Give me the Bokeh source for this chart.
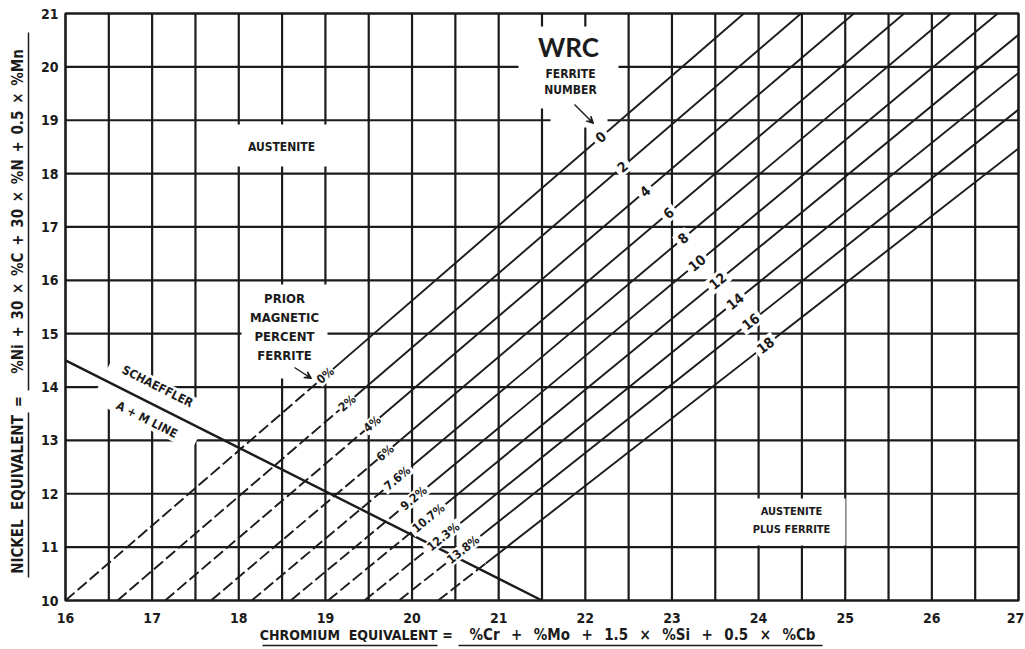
import math
from bokeh.plotting import figure
from bokeh.models import Range1d, Arrow, VeeHead
from bokeh.core.properties import value
from bokeh.embed import file_html
from bokeh.resources import INLINE

# ---------------------------------------------------------------- data
cr_ticks = list(range(16, 28))          # chromium equivalent axis
ni_ticks = list(range(10, 22))          # nickel equivalent axis

# WRC ferrite number iso-lines: Cr-eq where each line meets Ni-eq = 10 and Ni-eq = 21
fn_numbers = [0, 2, 4, 6, 8, 10, 12, 14, 16, 18]
fn_cr_at_ni10 = [16.00, 16.60, 17.15, 17.68, 18.15, 18.60, 19.03, 19.45, 19.85, 20.30]
fn_cr_at_ni21 = [23.83, 24.49, 25.10, 25.68, 26.22, 26.76, 27.30, 27.85, 28.40, 29.00]

# prior magnetic percent ferrite carried by the same lines (dashed part)
pct_labels = ["0%", "2%", "4%", "6%", "7.6%", "9.2%", "10.7%", "12.3%", "13.8%"]

# Schaeffler A + M line
schaeffler_cr = [16.0, 21.5]
schaeffler_ni = [14.5, 10.0]

# ---------------------------------------------------------------- layout
W, H = 1025, 649
FL, FR, FT, FB = 65, 1018, 13, 600        # diagram frame in page pixels
SX = (FR - FL) / (cr_ticks[-1] - cr_ticks[0])
SY = (FB - FT) / (ni_ticks[-1] - ni_ticks[0])
X0 = cr_ticks[0] - FL / SX
X1 = X0 + W / SX
Y1 = ni_ticks[-1] + FT / SY
Y0 = Y1 - H / SY


def px_x(px):
    return X0 + px / SX


def px_y(py):
    return Y1 - py / SY


INK = "#1b1b1b"
COND = value("'DejaVu Sans Condensed', 'Liberation Sans Narrow', 'DejaVu Sans'")
GEOM = value("Lato")
SP = "\u00a0\u2002"     # wide gap around operators in the x formula
EN = "\u2002"

# label anchors along each iso-line (Cr-eq of the label centre)
fn_label_cr = [22.18, 22.43, 22.69, 22.96, 23.13, 23.29, 23.53, 23.73, 23.91, 24.08]
pct_label_cr = [19.00, 19.25, 19.54, 19.69, 19.83, 20.02, 20.19, 20.36, 20.59]
dash_end_cr = pct_label_cr + [20.85]

p = figure(width=W, height=H, x_range=Range1d(X0, X1), y_range=Range1d(Y0, Y1),
           output_backend="svg", toolbar_location=None,
           x_axis_location=None, y_axis_location=None, min_border=0)
p.outline_line_color = None
p.background_fill_color = "white"
p.border_fill_color = "white"
p.grid.visible = False

cmin, cmax = cr_ticks[0], cr_ticks[-1]
nmin, nmax = ni_ticks[0], ni_ticks[-1]

# ---------------------------------------------------------------- grid
vx = [cmin + 0.5 * i for i in range(1, 2 * (cmax - cmin))]
p.segment(x0=vx, y0=[nmin] * len(vx), x1=vx, y1=[nmax] * len(vx),
          line_color=INK, line_width=2.2)
hy = ni_ticks[1:-1]
p.segment(x0=[cmin] * len(hy), y0=hy, x1=[cmax] * len(hy), y1=hy,
          line_color=INK, line_width=2.2)

# ---------------------------------------------------------------- iso-ferrite lines
solid_xs, solid_ys, dash_xs, dash_ys = [], [], [], []
slopes = []
for a, b, brk in zip(fn_cr_at_ni10, fn_cr_at_ni21, dash_end_cr):
    s = (nmax - nmin) / (b - a)
    slopes.append(s)
    if b <= cmax:
        end = (b, nmax)
    else:
        end = (cmax, nmin + s * (cmax - a))
    bn = nmin + s * (brk - a)
    dash_xs.append([a, brk]); dash_ys.append([nmin, bn])
    solid_xs.append([brk, end[0]]); solid_ys.append([bn, end[1]])

p.multi_line(xs=solid_xs, ys=solid_ys, line_color=INK, line_width=1.9)
p.multi_line(xs=dash_xs, ys=dash_ys, line_color=INK, line_width=1.9, line_dash="12 4")


def ni_on(k, cr):
    return nmin + slopes[k] * (cr - fn_cr_at_ni10[k])


def screen_angle(k):
    return math.atan(slopes[k] * SY / SX)


# ---------------------------------------------------------------- white label areas
boxes = [  # left, right, top, bottom in page pixels
    (205, 355, 124, 166),     # AUSTENITE
    (518, 618, 26, 108),      # WRC FERRITE NUMBER
    (550, 607, 100, 127),     # arrow under it
    (241, 327, 284, 378),     # PRIOR MAGNETIC PERCENT FERRITE
    (738, 845, 498, 545),     # AUSTENITE PLUS FERRITE
]
p.quad(left=[px_x(b[0]) for b in boxes], right=[px_x(b[1]) for b in boxes],
       top=[px_y(b[2]) for b in boxes], bottom=[px_y(b[3]) for b in boxes],
       fill_color="white", line_color=None)

# band holding the Schaeffler captions
sch_ang = math.atan((schaeffler_ni[0] - schaeffler_ni[1]) * SY /
                    ((schaeffler_cr[1] - schaeffler_cr[0]) * SX))
p.rect(x=[px_x(152)], y=[px_y(403)], width=112, height=50,
       width_units="screen", height_units="screen", angle=-sch_ang,
       fill_color="white", line_color=None)

p.line(schaeffler_cr, schaeffler_ni, line_color=INK, line_width=2.4)

# gaps in the iso-lines around their numbers
fx = fn_label_cr
fy = [ni_on(k, c) for k, c in enumerate(fx)]
fang = [screen_angle(k) for k in range(len(fx))]
p.rect(x=fx, y=fy, width=[16 if n < 10 else 24 for n in fn_numbers], height=16,
       width_units="screen", height_units="screen", angle=fang,
       fill_color="white", line_color=None)

px_ = pct_label_cr
py_ = [ni_on(k, c) for k, c in enumerate(px_)]
pang = [screen_angle(k) for k in range(len(px_))]
p.rect(x=px_, y=py_, width=[8 * len(t) + 4 for t in pct_labels], height=13,
       width_units="screen", height_units="screen", angle=pang,
       fill_color="white", line_color=None)

# frame
p.quad(left=[cmin], right=[cmax], bottom=[nmin], top=[nmax],
       fill_color=None, line_color=INK, line_width=2.6)

# ---------------------------------------------------------------- texts on lines
p.text(x=fx, y=fy, text=[str(n) for n in fn_numbers], angle=fang,
       text_font=COND, text_font_size="14px", text_font_style="bold",
       text_align="center", text_baseline="middle", text_color=INK)
p.text(x=px_, y=py_, text=pct_labels, angle=pang,
       text_font=COND, text_font_size="12px", text_font_style="bold",
       text_align="center", text_baseline="middle", text_color=INK)


# ---------------------------------------------------------------- region captions
def caption(lines, cx, cy, size, step, font=COND, style="bold", angle=0.0):
    p.text(x=[px_x(cx)] * len(lines),
           y=[px_y(cy + i * step) for i in range(len(lines))],
           text=lines, angle=angle, text_font=font, text_font_size=size,
           text_font_style=style, text_align="center", text_baseline="middle",
           text_color=INK)


caption(["AUSTENITE"], 281, 146, "12px", 0)
caption(["WRC"], 568, 46, "26px", 0, font=GEOM)
caption(["FERRITE", "NUMBER"], 570, 73, "12px", 16)
caption(["PRIOR", "MAGNETIC", "PERCENT", "FERRITE"], 284, 298, "13px", 19)
caption(["AUSTENITE", "PLUS FERRITE"], 791, 511, "11px", 18)
caption(["SCHAEFFLER"], 157, 386, "12px", 0, angle=-sch_ang)
caption(["A + M  LINE"], 148, 420, "12px", 0, angle=-sch_ang)

p.add_layout(Arrow(end=VeeHead(size=7, line_color=INK, fill_color=INK, line_width=1.2),
                   x_start=px_x(574), y_start=px_y(104), x_end=px_x(593), y_end=px_y(123),
                   line_color=INK, line_width=1.4))
p.add_layout(Arrow(end=VeeHead(size=7, line_color=INK, fill_color=INK, line_width=1.2),
                   x_start=px_x(294), y_start=px_y(367), x_end=px_x(311), y_end=px_y(378),
                   line_color=INK, line_width=1.4))

# ---------------------------------------------------------------- tick labels
p.text(x=cr_ticks, y=[px_y(617)] * len(cr_ticks), text=[str(t) for t in cr_ticks],
       x_offset=[0] * (len(cr_ticks) - 1) + [-3],
       text_font=COND, text_font_size="14px", text_font_style="bold",
       text_align="center", text_baseline="middle", text_color=INK)
p.text(x=[px_x(58)] * len(ni_ticks), y=ni_ticks, text=[str(t) for t in ni_ticks],
       text_font=COND, text_font_size="14px", text_font_style="bold",
       text_align="right", text_baseline="middle", text_color=INK)

# ---------------------------------------------------------------- axis titles
x_formula = SP.join(["%Cr", "+", "%Mo", "+", "1.5", "×", "%Si", "+", "0.5", "×", "%Cb"])
p.text(x=[px_x(348), px_x(447)], y=[px_y(634)] * 2,
       text=["CHROMIUM\u00a0\u00a0EQUIVALENT", "="],
       text_font=COND, text_font_size="14px", text_font_style="bold",
       text_align="center", text_baseline="middle", text_color=INK)
p.text(x=[px_x(642)], y=[px_y(634)], text=[x_formula],
       text_font=COND, text_font_size="15px", text_font_style="bold",
       text_align="center", text_baseline="middle", text_color=INK)
p.segment(x0=[px_x(262), px_x(458)], y0=[px_y(645)] * 2,
          x1=[px_x(437), px_x(822)], y1=[px_y(645)] * 2,
          line_color=INK, line_width=1.5)

y_formula = EN.join(["%Ni", "+", "30", "×", "%C", "+", "30", "×", "%N", "+", "0.5", "×", "%Mn"])
p.text(x=[px_x(17)] * 3, y=[px_y(494), px_y(401), px_y(211)],
       text=["NICKEL\u00a0\u00a0EQUIVALENT", "=", y_formula],
       angle=math.pi / 2,
       text_font=COND, text_font_size="15px", text_font_style="bold",
       text_align="center", text_baseline="middle", text_color=INK)
p.segment(x0=[px_x(28)] * 2, y0=[px_y(577), px_y(390)],
          x1=[px_x(28)] * 2, y1=[px_y(412), px_y(32)],
          line_color=INK, line_width=1.5)

open("out.html", "w").write(file_html(p, INLINE))
